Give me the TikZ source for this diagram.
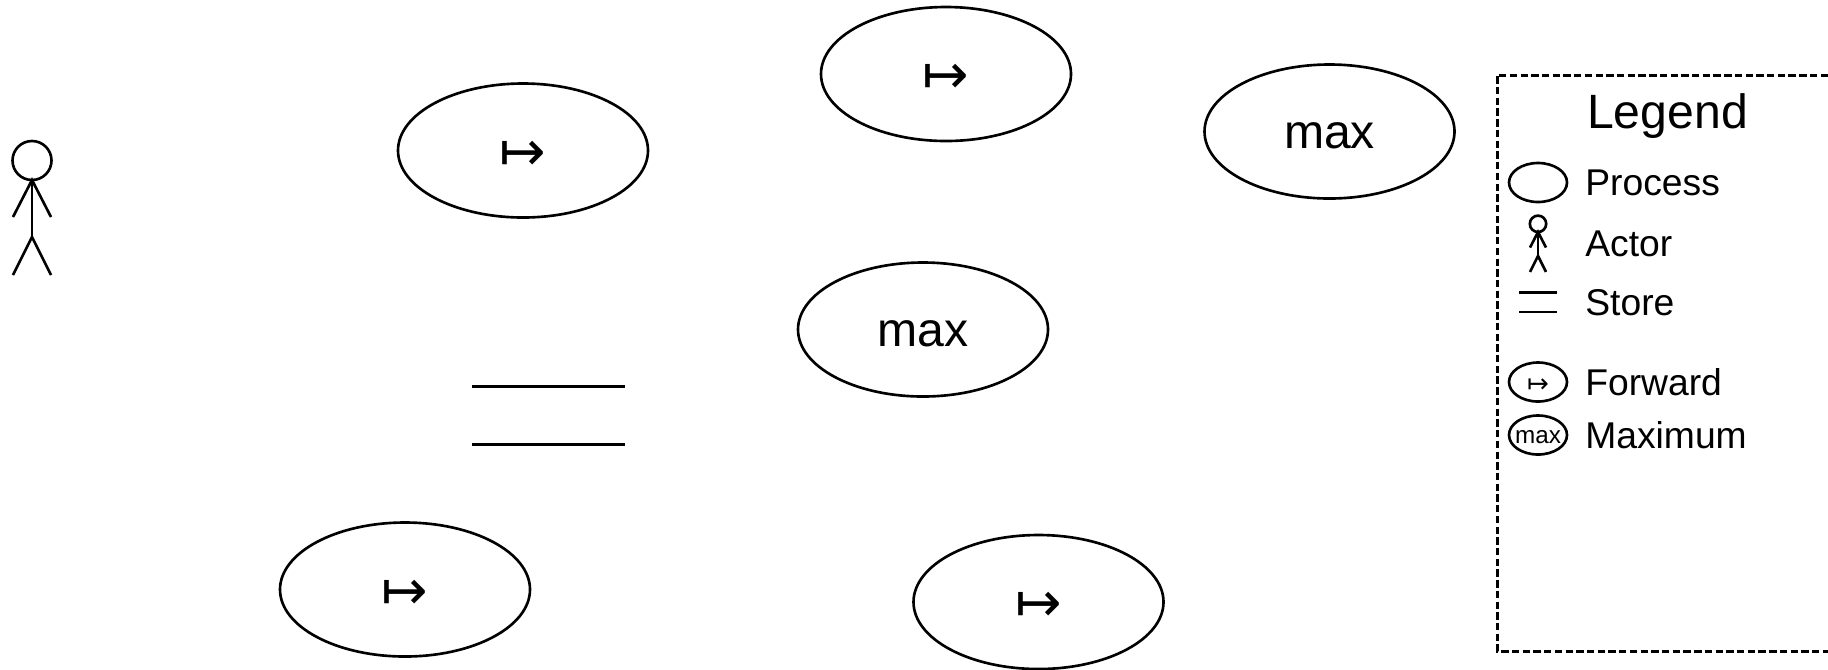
\documentclass[tikz,border=0pt]{standalone}
\usepackage{fontspec}
\setmainfont{Liberation Sans}
\newfontfamily\symfont{DejaVu Sans}
\usetikzlibrary{shapes.geometric}
\newcommand{\fwd}{{\symfont\symbol{"21A6}}}
\tikzset{
  every picture/.style={line width=0.75pt},
  proc/.style={draw, ellipse, inner sep=0pt, minimum width=2.5cm, minimum height=1.34cm, text height=9.8pt, text depth=0pt, font=\fontsize{13.7}{15}\selectfont},
  procsym/.style={proc, text height=11.1pt, font=\fontsize{15.8}{17}\selectfont},
  mini/.style={draw, ellipse, inner sep=-3pt, minimum width=0.58cm, minimum height=0.39cm, text height=5pt, text depth=0pt, font=\fontsize{6.9}{8}\selectfont},
  lab/.style={anchor=base west, inner sep=0pt, font=\fontsize{10.6}{12}\selectfont},
  title/.style={anchor=base, inner sep=0pt, font=\fontsize{13.7}{15}\selectfont},
  stick/.pic={
    \draw (0,0.195) circle (0.195);
    \draw (-0.19,-0.37) -- (0,0) -- (0.19,-0.37);
    \draw (0,0) -- (0,-0.57);
    \draw (-0.19,-0.95) -- (0,-0.57) -- (0.19,-0.95);
  },
}

\begin{document}
\begin{tikzpicture}
  \useasboundingbox (0, 0) rectangle (18.28, -6.69);
  % actor and store
  \pic at (0.32, -1.8) {stick};
  \draw (4.72, -3.865) -- (6.25, -3.865);
  \draw (4.72, -4.445) -- (6.25, -4.445);
  % processes
  \node[procsym] (fwdA) at (5.23, -1.505) {\fwd};
  \node[procsym] (fwdB) at (9.46, -0.74) {\fwd};
  \node[procsym] (fwdC) at (4.05, -5.895) {\fwd};
  \node[procsym] (fwdD) at (10.385, -6.02) {\fwd};
  \node[proc] (maxA) at (13.295, -1.315) {max};
  \node[proc] (maxB) at (9.23, -3.295) {max};
  % legend
  \draw[line width=0.85pt, dash pattern=on 2.1pt off 0.95pt] (18.28, -0.75) -- (14.97, -0.75) -- (14.97, -6.51) -- (18.28, -6.51);
  \node[title] (legend) at (16.675, -1.285) {Legend};
  \node[mini] (keyProc) at (15.38, -1.825) {};
  \pic[scale=0.42] at (15.38, -2.32) {stick};
  \draw (15.19, -2.925) -- (15.57, -2.925);
  \draw (15.19, -3.12) -- (15.57, -3.12);
  \node[mini, text height=6pt, font=\fontsize{7.4}{9}\selectfont] (keyFwd) at (15.38, -3.82) {\fwd};
  \node[mini] (keyMax) at (15.38, -4.35) {max};
  \node[lab] (txtProc) at (15.84, -1.95) {Process};
  \node[lab] (txtActor) at (15.84, -2.56) {Actor};
  \node[lab] (txtStore) at (15.84, -3.15) {Store};
  \node[lab] (txtFwd) at (15.84, -3.955) {Forward};
  \node[lab] (txtMax) at (15.84, -4.48) {Maximum};
\end{tikzpicture}
\end{document}
